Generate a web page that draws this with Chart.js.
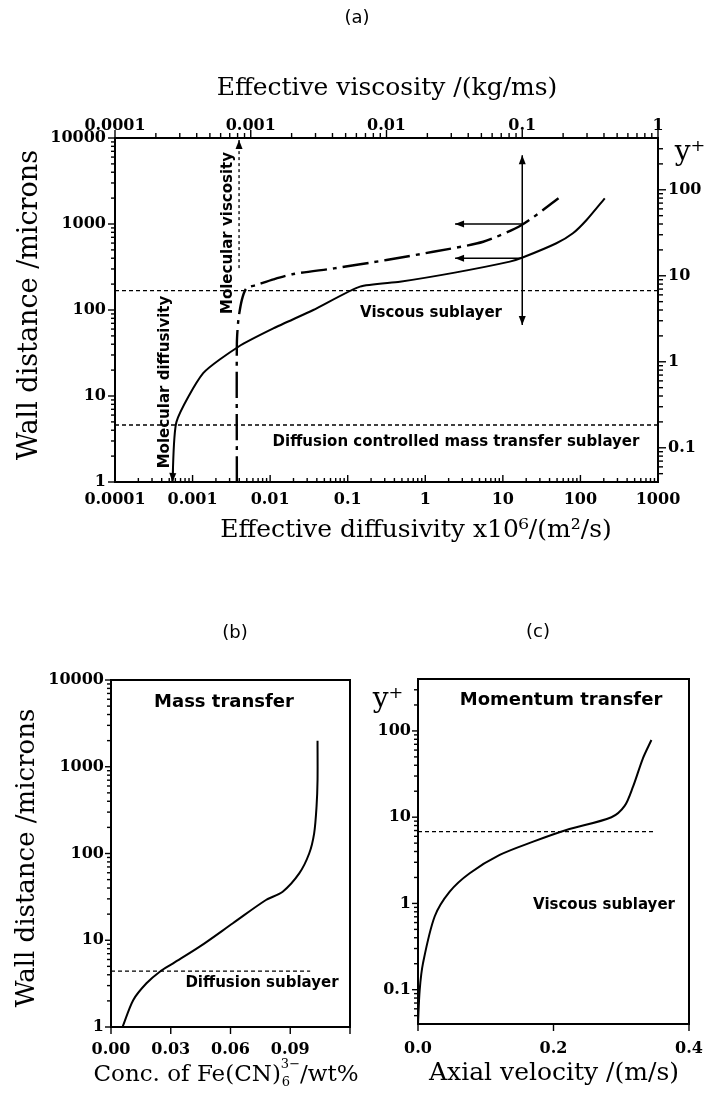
<!DOCTYPE html>
<html>
<head>
<meta charset="utf-8">
<title>Wall region profiles</title>
<script src="https://cdn.jsdelivr.net/npm/chart.js@4.4.1/dist/chart.umd.min.js"></script>
<style>
  body { margin: 0; background: #fff; width: 714px; height: 1094px; position: relative; overflow: hidden; }
  canvas { position: absolute; }
  #chartA { left: 0; top: 0; }
  #chartB { left: 0; top: 560px; }
  #chartC { left: 360px; top: 560px; }
</style>
</head>
<body>
<canvas id="chartA" width="714" height="560"></canvas>
<canvas id="chartB" width="360" height="534"></canvas>
<canvas id="chartC" width="354" height="534"></canvas>
<script>
// ---- (a) effective diffusivity (x10^6 m2/s) vs wall distance (microns)
const diffX = [0.00055, 0.00062, 0.00137, 0.0039, 0.011, 0.036, 0.144, 0.47, 2.4, 12.3, 18.3, 49, 80, 120, 206];
const diffY = [1, 5.0, 18.4, 37.4, 61, 100, 187, 213, 272, 365, 410, 597, 780, 1113, 1990];

// ---- (a) effective viscosity (kg/ms) vs wall distance (microns)
const viscX = [0.00079, 0.00079, 0.00081, 0.00086, 0.00093, 0.0011, 0.00147, 0.00206, 0.0041, 0.0100, 0.0221, 0.0516, 0.099, 0.185];
const viscY = [1, 40, 76, 131, 179, 195, 227, 262, 305, 381, 476, 622, 973, 1990];

// sublayer edges (wall distance, microns)
const viscousEdge = [168, 168];
const diffusionEdge = [4.6, 4.6];
const diffRange = [0.0001, 1000];

// arrows in (a)
const arrowVertX = [0.1, 0.1];
const arrowVertY = [67, 6300];
const arrowHorX = [0.1, 0.032];
const arrowUpperY = [1000, 1000];
const arrowLowerY = [400, 400];
const molViscX = [0.00082, 0.00082];
const molViscY = [307, 9500];
const molDiffX = [0.00056, 0.00055];
const molDiffY = [1.5, 1.0];

// ---- (b) concentration profile
const concX = [0.0058, 0.0112, 0.0178, 0.0245, 0.0312, 0.0445, 0.0612, 0.0778, 0.0862, 0.0945, 0.0995, 0.102, 0.1032, 0.1037, 0.1037];
const concY = [1, 2.05, 3.19, 4.34, 5.42, 8.43, 15.7, 29.1, 36.3, 59, 100, 171, 347, 704, 2000];
const concEdgeX = [0, 0.1];
const concEdgeY = [4.4, 4.4];

// ---- (c) axial velocity profile
const velX = [0, 0.0025, 0.0074, 0.0246, 0.0468, 0.0763, 0.1206, 0.17, 0.219, 0.2855, 0.305, 0.3174, 0.332, 0.3445];
const velY = [0.04, 0.0995, 0.203, 0.705, 1.37, 2.24, 3.65, 5.2, 7.1, 9.98, 13.5, 22.6, 48.2, 78.5];
const velEdgeX = [0, 0.349];
const velEdgeY = [6.8, 6.8];

// ---- tick values and labels
const diffTicks = [0.0001, 0.001, 0.01, 0.1, 1, 10, 100, 1000];
const diffTickLabels = ["0.0001", "0.001", "0.01", "0.1", "1", "10", "100", "1000"];
const viscTicks = [0.0001, 0.001, 0.01, 0.1, 1];
const viscTickLabels = ["0.0001", "0.001", "0.01", "0.1", "1"];
const wallTicks = [1, 10, 100, 1000, 10000];
const wallTickLabels = ["1", "10", "100", "1000", "10000"];
const yPlusTicks = [0.1, 1, 10, 100];
const yPlusTickLabels = ["0.1", "1", "10", "100"];
const concTicks = [0, 0.03, 0.06, 0.09, 0.12];
const concTickLabels = ["0.00", "0.03", "0.06", "0.09", ""];
const velTicks = [0, 0.2, 0.4];
const velTickLabels = ["0.0", "0.2", "0.4"];

const SERIF = "'DejaVu Serif', serif";
const SANS = "'DejaVu Sans', sans-serif";
const TICK_FONT = { family: "'DejaVu Serif', serif", weight: "bold", size: 16 };

const pts = (xs, ys) => xs.map((x, i) => ({ x, y: ys[i] }));

const minorLog = (min, max) => {
  const out = [];
  for (let e = Math.floor(Math.log10(min)); e <= Math.ceil(Math.log10(max)); e++) {
    for (let k = 2; k <= 9; k++) {
      const v = k * Math.pow(10, e);
      if (v > min * 1.0001 && v < max * 0.9999) out.push(v);
    }
  }
  return out;
};

// fixed-size axis so every plot frame lands where the paper has it
const axis = (type, position, min, max, values, labels, size, pad) => ({
  type, position, min, max,
  afterBuildTicks: (s) => { s.ticks = values.map((v) => ({ value: v })); },
  afterFit: (s) => {
    if (s.isHorizontal()) s.height = size; else s.width = size;
    s.paddingLeft = s.paddingRight = s.paddingTop = s.paddingBottom = 0;
  },
  grid: { display: false, drawTicks: false },
  border: { display: false },
  ticks: {
    autoSkip: false, maxRotation: 0, minRotation: 0, padding: pad,
    color: "#000", font: TICK_FONT,
    callback: (v, i) => labels[i],
  },
});

const curve = (data, extra) => Object.assign({
  data, showLine: true, borderColor: "#000", backgroundColor: "#000",
  borderWidth: 2, pointRadius: 0, tension: 0.25,
}, extra);

// ---- drawing helpers for the paper-style extras
const arrowHead = (ctx, from, to) => {
  const ang = Math.atan2(to.y - from.y, to.x - from.x);
  const L = 9, W = 3.5;
  const bx = to.x - L * Math.cos(ang), by = to.y - L * Math.sin(ang);
  ctx.beginPath();
  ctx.moveTo(to.x, to.y);
  ctx.lineTo(bx - W * Math.sin(ang), by + W * Math.cos(ang));
  ctx.lineTo(bx + W * Math.sin(ang), by - W * Math.cos(ang));
  ctx.closePath();
  ctx.fill();
};

const drawText = (ctx, t) => {
  ctx.save();
  ctx.translate(t.x, t.y);
  if (t.rot) ctx.rotate(t.rot);
  ctx.font = t.font;
  ctx.textAlign = t.align || "center";
  ctx.textBaseline = "middle";
  ctx.fillText(t.text, 0, 0);
  ctx.restore();
};

const drawConcTitle = (ctx, cx, cy) => {
  const big = `23px ${SERIF}`, small = `13px ${SERIF}`;
  ctx.save();
  ctx.font = big;
  const w1 = ctx.measureText("Conc. of Fe(CN)").width;
  const w3 = ctx.measureText("/wt%").width;
  ctx.font = small;
  const w2 = Math.max(ctx.measureText("3−").width, ctx.measureText("6").width);
  let x = cx - (w1 + w2 + w3) / 2;
  ctx.textAlign = "left";
  ctx.textBaseline = "alphabetic";
  ctx.font = big;
  ctx.fillText("Conc. of Fe(CN)", x, cy + 8);
  x += w1;
  ctx.font = small;
  ctx.fillText("3−", x, cy - 5);
  ctx.fillText("6", x + 1, cy + 13);
  x += w2;
  ctx.font = big;
  ctx.fillText("/wt%", x, cy + 8);
  ctx.restore();
};

const paperPlugin = (spec) => ({
  id: "paper",
  afterDraw(chart) {
    const { ctx, chartArea: a } = chart;
    ctx.save();
    ctx.strokeStyle = "#000";
    ctx.fillStyle = "#000";
    ctx.lineWidth = 2;
    ctx.strokeRect(a.left, a.top, a.right - a.left, a.bottom - a.top);

    ctx.lineWidth = 1.4;
    spec.ticks.forEach((t) => {
      const s = chart.scales[t.axis];
      const sg = t.dir === "out" ? 1 : -1;
      t.values.forEach((v) => {
        const p = s.getPixelForValue(v);
        ctx.beginPath();
        if (s.position === "left") { ctx.moveTo(a.left, p); ctx.lineTo(a.left - sg * t.len, p); }
        else if (s.position === "right") { ctx.moveTo(a.right, p); ctx.lineTo(a.right + sg * t.len, p); }
        else if (s.position === "top") { ctx.moveTo(p, a.top); ctx.lineTo(p, a.top - sg * t.len); }
        else { ctx.moveTo(p, a.bottom); ctx.lineTo(p, a.bottom + sg * t.len); }
        ctx.stroke();
      });
    });

    chart.data.datasets.forEach((ds, i) => {
      if (!ds.arrow) return;
      const el = chart.getDatasetMeta(i).data;
      if (ds.arrow !== "start") arrowHead(ctx, el[el.length - 2], el[el.length - 1]);
      if (ds.arrow !== "end") arrowHead(ctx, el[1], el[0]);
    });

    spec.texts.forEach((t) => drawText(ctx, t));
    if (spec.extra) spec.extra(ctx);
    ctx.restore();
  },
});

const baseOptions = (scales, padding) => ({
  responsive: false,
  animation: false,
  events: [],
  layout: { padding },
  plugins: { legend: { display: false }, tooltip: { enabled: false } },
  scales,
});

// ================= (a) =================
new Chart(document.getElementById("chartA"), {
  type: "scatter",
  data: {
    datasets: [
      curve(pts(diffX, diffY), { xAxisID: "x", yAxisID: "y", tension: 0.2 }),
      curve(pts(viscX, viscY), { xAxisID: "x2", yAxisID: "y", borderWidth: 2.4, borderDash: [26, 6, 4, 6] }),
      curve(pts(diffRange, viscousEdge), { xAxisID: "x", yAxisID: "y", borderWidth: 1.3, borderDash: [4, 3], tension: 0 }),
      curve(pts(diffRange, diffusionEdge), { xAxisID: "x", yAxisID: "y", borderWidth: 1.3, borderDash: [4, 3], tension: 0 }),
      curve(pts(arrowVertX, arrowVertY), { xAxisID: "x2", yAxisID: "y", borderWidth: 1.5, tension: 0, arrow: "both" }),
      curve(pts(arrowHorX, arrowUpperY), { xAxisID: "x2", yAxisID: "y", borderWidth: 1.5, tension: 0, arrow: "end" }),
      curve(pts(arrowHorX, arrowLowerY), { xAxisID: "x2", yAxisID: "y", borderWidth: 1.5, tension: 0, arrow: "end" }),
      curve(pts(molViscX, molViscY), { xAxisID: "x2", yAxisID: "y", borderWidth: 1.3, borderDash: [3, 3], tension: 0, arrow: "end" }),
      curve(pts(molDiffX, molDiffY), { xAxisID: "x", yAxisID: "y", borderWidth: 1.5, tension: 0, arrow: "end" }),
    ],
  },
  options: baseOptions({
    x: axis("logarithmic", "bottom", 0.0001, 1000, diffTicks, diffTickLabels, 78, 8),
    x2: axis("logarithmic", "top", 0.0001, 1, viscTicks, viscTickLabels, 138, 3),
    y: axis("logarithmic", "left", 1, 10000, wallTicks, wallTickLabels, 115, 9),
    y2: axis("logarithmic", "right", 0.04, 400, yPlusTicks, yPlusTickLabels, 56, 10),
  }, 0),
  plugins: [paperPlugin({
    ticks: [
      { axis: "y", values: wallTicks, len: 7, dir: "out" },
      { axis: "y", values: minorLog(1, 10000), len: 4, dir: "out" },
      { axis: "x2", values: viscTicks, len: 8, dir: "out" },
      { axis: "x2", values: minorLog(0.0001, 1), len: 5, dir: "out" },
      { axis: "x", values: diffTicks, len: 7, dir: "in" },
      { axis: "x", values: minorLog(0.0001, 1000), len: 4, dir: "in" },
      { axis: "y2", values: yPlusTicks, len: 8, dir: "out" },
      { axis: "y2", values: minorLog(0.04, 400), len: 5, dir: "out" },
    ],
    texts: [
      { text: "(a)", x: 357, y: 18, font: `18px ${SANS}` },
      { text: "Effective viscosity /(kg/ms)", x: 387, y: 88, font: `25px ${SERIF}` },
      { text: "Effective diffusivity x10⁶/(m²/s)", x: 416, y: 530, font: `25px ${SERIF}` },
      { text: "Wall distance /microns", x: 30, y: 305, font: `27px ${SERIF}`, rot: -Math.PI / 2 },
      { text: "y⁺", x: 690, y: 153, font: `28px ${SERIF}` },
      { text: "Molecular viscosity", x: 228, y: 233, font: `bold 15px ${SANS}`, rot: -Math.PI / 2 },
      { text: "Molecular diffusivity", x: 165, y: 382, font: `bold 15px ${SANS}`, rot: -Math.PI / 2 },
      { text: "Viscous sublayer", x: 431, y: 313, font: `bold 15px ${SANS}` },
      { text: "Diffusion controlled mass transfer sublayer", x: 456, y: 442, font: `bold 15px ${SANS}` },
    ],
  })],
});

// ================= (b) =================
new Chart(document.getElementById("chartB"), {
  type: "scatter",
  data: {
    datasets: [
      curve(pts(concX, concY), { tension: 0.3 }),
      curve(pts(concEdgeX, concEdgeY), { borderWidth: 1.3, borderDash: [4, 3], tension: 0 }),
    ],
  },
  options: baseOptions({
    x: axis("linear", "bottom", 0, 0.12, concTicks, concTickLabels, 67, 13),
    y: axis("logarithmic", "left", 1, 10000, wallTicks, wallTickLabels, 111, 7),
  }, { top: 120, right: 10, left: 0, bottom: 0 }),
  plugins: [paperPlugin({
    ticks: [
      { axis: "y", values: wallTicks, len: 6, dir: "out" },
      { axis: "y", values: minorLog(1, 10000), len: 4, dir: "out" },
      { axis: "x", values: concTicks, len: 7, dir: "out" },
    ],
    texts: [
      { text: "(b)", x: 235, y: 73, font: `18px ${SANS}` },
      { text: "Mass transfer", x: 224, y: 142, font: `bold 18px ${SANS}` },
      { text: "Diffusion sublayer", x: 262, y: 423, font: `bold 15px ${SANS}` },
      { text: "Wall distance /microns", x: 27, y: 298, font: `26px ${SERIF}`, rot: -Math.PI / 2 },
    ],
    extra: (ctx) => drawConcTitle(ctx, 226, 513),
  })],
});

// ================= (c) =================
new Chart(document.getElementById("chartC"), {
  type: "scatter",
  data: {
    datasets: [
      curve(pts(velX, velY), { tension: 0.3 }),
      curve(pts(velEdgeX, velEdgeY), { borderWidth: 1.3, borderDash: [4, 3], tension: 0 }),
    ],
  },
  options: baseOptions({
    x: axis("linear", "bottom", 0, 0.4, velTicks, velTickLabels, 70, 15),
    y: axis("logarithmic", "left", 0.04, 400, yPlusTicks, yPlusTickLabels, 58, 7),
  }, { top: 119, right: 25, left: 0, bottom: 0 }),
  plugins: [paperPlugin({
    ticks: [
      { axis: "y", values: yPlusTicks, len: 6, dir: "out" },
      { axis: "y", values: minorLog(0.04, 400), len: 4, dir: "out" },
      { axis: "x", values: velTicks, len: 7, dir: "out" },
    ],
    texts: [
      { text: "(c)", x: 178, y: 72, font: `18px ${SANS}` },
      { text: "Momentum transfer", x: 201, y: 140, font: `bold 18px ${SANS}` },
      { text: "Viscous sublayer", x: 244, y: 345, font: `bold 15px ${SANS}` },
      { text: "y⁺", x: 28, y: 140, font: `28px ${SERIF}` },
      { text: "Axial velocity /(m/s)", x: 194, y: 513, font: `25px ${SERIF}` },
    ],
  })],
});
</script>
</body>
</html>
